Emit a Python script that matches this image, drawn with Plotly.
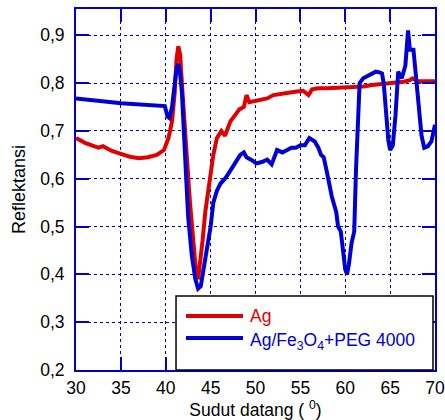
import plotly.graph_objects as go

# ---- data ----
ag_x = [30, 31, 32, 32.5, 33, 33.5, 34, 35, 36, 37, 38, 39, 39.8, 40.3, 40.7, 41.0, 41.2, 41.4,
        41.6, 41.8, 42.0, 42.3, 42.7, 43.1, 43.4, 43.6, 43.8, 44.1, 44.4, 44.9, 45.3, 45.7, 46.2,
        46.6, 47.2, 47.6, 48.2, 48.7, 49.0, 49.3, 49.8, 50.5, 51.3, 52, 52.8, 53.5, 54.4, 55.3,
        55.9, 56.3, 57, 58, 59, 60, 61, 62, 63, 64, 65, 65.6, 66.5, 67.2, 67.5, 68, 69, 70]
ag_y = [0.685, 0.675, 0.668, 0.665, 0.668, 0.662, 0.658, 0.652, 0.646, 0.643, 0.645, 0.65, 0.66,
        0.685, 0.72, 0.78, 0.85, 0.877, 0.86, 0.8, 0.73, 0.66, 0.55, 0.45, 0.40, 0.39, 0.42, 0.47,
        0.53, 0.6, 0.65, 0.685, 0.7, 0.69, 0.72, 0.73, 0.745, 0.75, 0.775, 0.76, 0.762, 0.765,
        0.768, 0.775, 0.778, 0.78, 0.782, 0.784, 0.775, 0.787, 0.789, 0.789, 0.79, 0.79, 0.793,
        0.793, 0.796, 0.798, 0.8, 0.8, 0.803, 0.806, 0.81, 0.804, 0.805, 0.804]

peg_x = [30, 32, 34, 35, 36, 38, 39, 39.9, 40.2, 40.4, 40.7, 41.0, 41.2, 41.4, 41.6, 41.8, 42.0,
         42.2, 42.5, 42.9, 43.3, 43.6, 43.9, 44.2, 44.6, 45.0, 45.3, 45.7, 46.1, 46.6, 47.2, 47.8,
         48.3, 48.7, 49.0, 49.5, 50.1, 50.7, 51.3, 51.8, 52.4, 53.0, 53.5, 54.0, 54.5, 55.0, 55.5,
         56.0, 56.6, 57.0, 57.3, 57.6, 58.0, 58.5, 59.0, 59.2, 59.5, 59.8, 60.0, 60.2, 60.4, 60.7,
         61.0, 61.2, 61.4, 61.6, 62.0, 62.5, 63.0, 63.4, 63.9, 64.1, 64.3, 64.5, 64.8, 65.0, 65.3,
         65.6, 65.9, 66.3, 66.7, 67.0, 67.2, 67.6, 67.9, 68.2, 68.5, 68.8, 69.2, 69.6, 70]
peg_y = [0.768, 0.765, 0.76, 0.758, 0.757, 0.754, 0.753, 0.752, 0.73, 0.727, 0.75, 0.8, 0.83, 0.84,
         0.82, 0.78, 0.7, 0.62, 0.52, 0.44, 0.39, 0.37, 0.375, 0.41, 0.45, 0.5, 0.55, 0.575, 0.59,
         0.6, 0.617, 0.635, 0.65, 0.655, 0.645, 0.64, 0.632, 0.635, 0.64, 0.63, 0.66, 0.655, 0.66,
         0.665, 0.665, 0.67, 0.67, 0.685, 0.678, 0.665, 0.65, 0.645, 0.61, 0.563, 0.53, 0.5, 0.49,
         0.43, 0.41, 0.40, 0.42, 0.465, 0.49, 0.62, 0.72, 0.8, 0.81, 0.815, 0.82, 0.824, 0.822,
         0.82, 0.797, 0.74, 0.68, 0.66, 0.67, 0.733, 0.824, 0.81, 0.837, 0.91, 0.87, 0.87, 0.804,
         0.75, 0.69, 0.665, 0.668, 0.678, 0.713]

series_names = ["Ag", "Ag/Fe<sub>3</sub>O<sub>4</sub>+PEG 4000"]
x_title = "Sudut datang ( <sup>0</sup>)"
y_title = "Reflektansi"

RED = "#e00000"
BLUE = "#0000d2"
AXIS_BLUE = "#0000cc"
FONT = "Arial, Liberation Sans, sans-serif"

fig = go.Figure()
fig.add_trace(go.Scatter(x=ag_x, y=ag_y, mode="lines", name=series_names[0],
                         line=dict(color=RED, width=4), showlegend=False))
fig.add_trace(go.Scatter(x=peg_x, y=peg_y, mode="lines", name=series_names[1],
                         line=dict(color=BLUE, width=4), showlegend=False))

axis_common = dict(
    showline=True, linecolor=AXIS_BLUE, linewidth=2, mirror="ticks",
    ticks="inside", ticklen=13, tickwidth=2, tickcolor=AXIS_BLUE,
    showgrid=True, gridcolor=AXIS_BLUE, gridwidth=1, griddash="dot",
    zeroline=False, automargin=False, ticklabeloverflow="allow",
    tickfont=dict(family=FONT, size=17.5, color="black"),
)

fig.update_layout(
    width=445, height=420,
    margin=dict(l=76, r=10, t=9, b=50),
    paper_bgcolor="white", plot_bgcolor="white",
    separators=",.",
    font=dict(family=FONT, color="black"),
    xaxis=dict(range=[30, 70], dtick=5, tick0=30, ticklabelstandoff=1,
               title=dict(text=x_title, font=dict(family=FONT, size=17.5, color="black"),
                          standoff=0),
               **axis_common),
    yaxis=dict(range=[0.2, 0.955], dtick=0.1, tick0=0.2, tickformat=".1f", ticklabelstandoff=6,
               title=dict(text=y_title, font=dict(family=FONT, size=18, color="black"),
                          standoff=10),
               **axis_common),
)

# legend box drawn as shapes + annotations (opaque, covering the curves)
fig.add_shape(type="rect", xref="paper", yref="paper", x0=0.2786, x1=0.9944, y0=0.0, y1=0.205,
              fillcolor="white", line=dict(color="black", width=1.5), layer="above")
fig.add_shape(type="line", xref="paper", yref="paper", x0=0.3064, x1=0.4652, y0=0.1496, y1=0.1496,
              line=dict(color=RED, width=4), layer="above")
fig.add_shape(type="line", xref="paper", yref="paper", x0=0.3064, x1=0.4652, y0=0.0886, y1=0.0886,
              line=dict(color=BLUE, width=4), layer="above")
fig.add_annotation(xref="paper", yref="paper", x=0.479, y=0.1496, xanchor="left", yanchor="middle",
                   text=series_names[0], showarrow=False,
                   font=dict(family=FONT, size=17.5, color=RED))
fig.add_annotation(xref="paper", yref="paper", x=0.479, y=0.0886, xanchor="left", yanchor="middle",
                   text=series_names[1], showarrow=False, yshift=-3,
                   font=dict(family=FONT, size=17.5, color=BLUE))

# remove the page's default body margin so the figure sits at the window's top-left corner
fig.write_html("out.html", config={"displayModeBar": False},
               post_script="document.body.style.margin='0';")
